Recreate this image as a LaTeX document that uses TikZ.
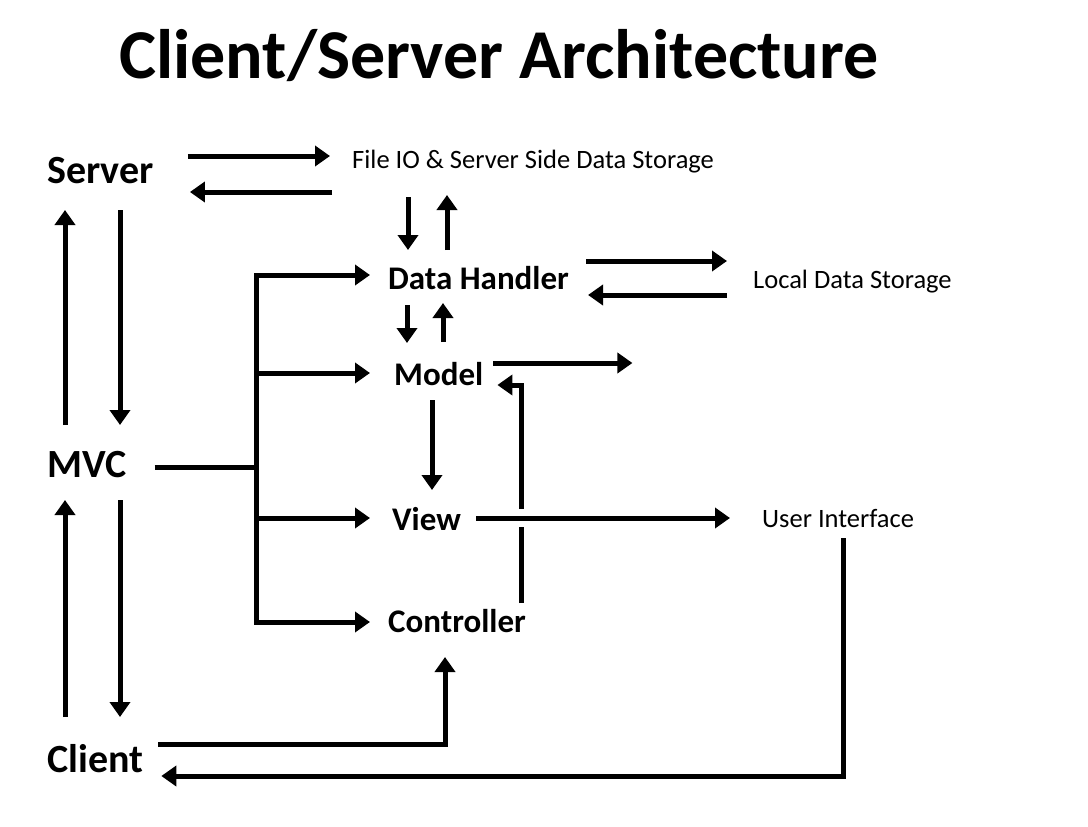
\documentclass[tikz,border=0pt]{standalone}
\usepackage{fontspec}
\setmainfont{Carlito}
\usetikzlibrary{arrows.meta,calc}

\begin{document}
\begin{tikzpicture}[x=1pt, y=-1pt,
  big/.style={inner sep=0pt, anchor=base west, font=\fontsize{40}{46}\selectfont\bfseries},
  part/.style={inner sep=0pt, anchor=base west, font=\fontsize{33}{38}\selectfont\bfseries},
  place/.style={inner sep=0pt, anchor=base west, font=\fontsize{26.5}{31}\selectfont},
  arr/.style={line width=5pt, -{Triangle[width=20pt,length=15pt]}},
  wire/.style={line width=5pt}]

\useasboundingbox[fill=white] (0,0) rectangle (1088,827);

\node[inner sep=0pt, anchor=base, font=\fontsize{70}{80}\selectfont\bfseries] (title) at (499,78) {Client/Server Architecture};

% left column
\node[big] (server) at (47,183) {Server};
\node[big] (mvc) at (47,477) {MVC};
\node[big] (client) at (47,772) {Client};

% mvc parts
\node[part] (dh) at (388,289) {Data Handler};
\node[part] (model) at (394,385) {Model};
\node[part] (view) at (392,530) {View};
\node[part] (ctrl) at (388,632) {Controller};

% outside
\node[place] (fileio) at (352,168) {File IO \& Server Side Data Storage};
\node[place] (local) at (753,288) {Local Data Storage};
\node[place] (ui) at (762,527) {User Interface};

% server <-> storage
\draw[arr] ($(server.base east)+(34,-27)$) -- ($(fileio.base west)+(-22,-12)$);
\draw[arr] ($(fileio.base west)+(-20,24)$) -- ($(server.base east)+(36,9)$);
\draw[arr] ($(fileio.base west)+(56,29)$) -- ($(dh.base west)+(20,-39)$);
\draw[arr] ($(dh.base west)+(59,-39)$) -- ($(fileio.base west)+(95,27)$);

% data handler <-> local
\draw[arr] ($(dh.base east)+(17,-28)$) -- ($(local.base west)+(-26,-27)$);
\draw[arr] ($(local.base west)+(-26,7)$) -- ($(dh.base east)+(19,6)$);
\draw[arr] ($(dh.base west)+(19,16)$) -- ($(model.base west)+(13,-42)$);
\draw[arr] ($(model.base west)+(49,-43)$) -- ($(dh.base west)+(55,14)$);

% model, view, controller
\draw[arr] ($(model.base east)+(10,-22)$) -- ++(139,0);
\draw[arr] ($(ctrl.base east)+(-5,-29)$) |- ($(model.base east)+(14,0)$);
\draw[arr] ($(model.base west)+(38,15)$) -- ($(view.base west)+(40,-40)$);
\draw[white, line width=18pt] ($(view.base east)+(15,-12)$) -- ($(ui.base west)+(-60,-9)$);
\draw[arr] ($(view.base east)+(15,-12)$) -- ($(ui.base west)+(-32,-9)$);

% back to client
\draw[arr] ($(ui.base west)+(81,11)$) |- ($(client.base east)+(18,4)$);
\draw[arr] ($(client.base east)+(15,-28)$) -| ($(ctrl.base west)+(57,25)$);

% mvc fan out
\coordinate (hub) at ($(mvc.base east)+(130,-10)$);
\draw[wire] ($(mvc.base east)+(28,-10)$) -- (hub);
\draw[arr] (hub) |- ($(dh.base west)+(-18,-14)$);
\draw[arr] (hub) |- ($(model.base west)+(-24,-12)$);
\draw[arr] (hub) |- ($(view.base west)+(-22,-12)$);
\draw[arr] (hub) |- ($(ctrl.base west)+(-18,-10)$);

% up and down the left side
\draw[arr] ($(server.base west)+(73,27)$) -- ($(mvc.base west)+(73,-52)$);
\draw[arr] ($(mvc.base west)+(18,-52)$) -- ($(server.base west)+(18,27)$);
\draw[arr] ($(mvc.base west)+(73,23)$) -- ($(client.base west)+(73,-55)$);
\draw[arr] ($(client.base west)+(18,-55)$) -- ($(mvc.base west)+(18,23)$);

\end{tikzpicture}
\end{document}
